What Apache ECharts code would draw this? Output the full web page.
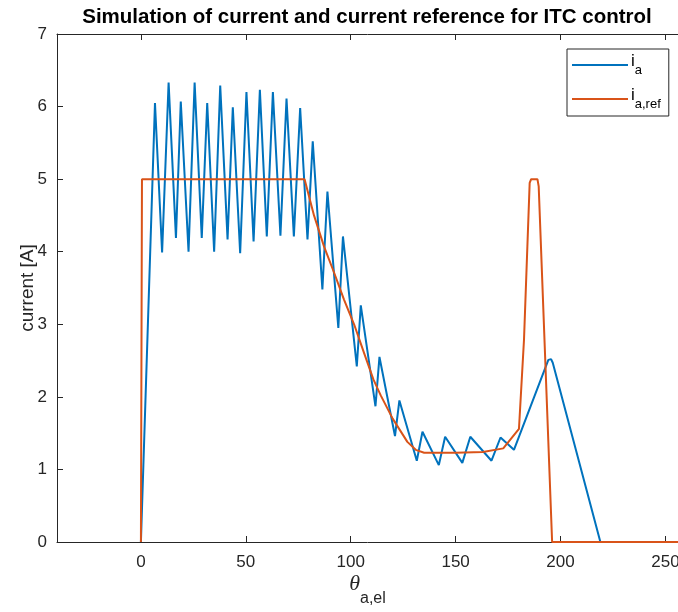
<!DOCTYPE html>
<html><head><meta charset="utf-8">
<script src="https://cdn.jsdelivr.net/npm/echarts@6/dist/echarts.min.js"></script>
<style>html,body{margin:0;padding:0;background:#fff}#c{width:678px;height:612px}</style>
</head><body><div id="c"></div>
<script>
// tick values
const xTicks = [0, 50, 100, 150, 200, 250];
const yTicks = [0, 1, 2, 3, 4, 5, 6, 7];

// measured current i_a
const iaX = [0, 6.7, 10.1, 13.2, 16.7, 19.0, 22.7, 25.6, 29.0, 31.6, 34.9, 37.8, 41.3, 43.8, 47.3, 50.3, 53.7, 56.7, 60.0, 62.9, 66.5, 69.4, 72.9, 75.9, 79.4, 81.9, 86.5, 88.9, 94.1, 96.3, 102.9, 104.8, 111.8, 113.7, 121.1, 123.2, 131.5, 134.2, 142.0, 145.0, 153.2, 157.0, 167.1, 171.4, 177.8, 194.2, 195.5, 196.3, 219.0, 256];
const iaY = [0, 6.05, 3.99, 6.33, 4.19, 6.07, 4.00, 6.33, 4.19, 6.05, 4.00, 6.29, 4.17, 5.99, 3.98, 6.20, 4.14, 6.23, 4.21, 6.20, 4.22, 6.11, 4.21, 5.98, 4.17, 5.52, 3.48, 4.83, 2.95, 4.21, 2.42, 3.26, 1.87, 2.55, 1.46, 1.95, 1.12, 1.52, 1.06, 1.45, 1.09, 1.45, 1.12, 1.44, 1.27, 2.51, 2.52, 2.47, 0, 0];

// reference current i_a,ref
const refX = [0, 0.5, 78.0, 82.5, 87.3, 92.1, 96.8, 101.6, 106.3, 110.8, 114.3, 120.0, 127.0, 131.0, 135.0, 150.0, 163.0, 172.7, 180.2, 182.6, 185.3, 186.0, 189.0, 189.6, 196.0, 256];
const refY = [0, 5, 5, 4.50, 4.07, 3.71, 3.34, 3.00, 2.61, 2.24, 2.02, 1.70, 1.38, 1.27, 1.23, 1.23, 1.24, 1.29, 1.56, 2.79, 4.95, 5, 5, 4.9, 0, 0];

const zip = (xs, ys) => xs.map((x, i) => [x, ys[i]]);
const AX = '#262626';
const FONT = '"Liberation Sans", Arial, sans-serif';

const chart = echarts.init(document.getElementById('c'), null, {renderer: 'canvas'});

const xCommon = {
  type: 'value', min: -40, max: 256,
  splitLine: {show: false},
  axisLine: {show: true, onZero: false, lineStyle: {color: AX, width: 1}},
  axisTick: {show: true, inside: true, length: 6, customValues: xTicks, lineStyle: {color: AX}},
};
const yCommon = {
  type: 'value', min: 0, max: 7, interval: 1,
  splitLine: {show: false},
  axisLine: {show: true, onZero: false, lineStyle: {color: AX, width: 1}},
  axisTick: {show: true, inside: true, length: 6, lineStyle: {color: AX}},
};

chart.setOption({
  animation: false,
  backgroundColor: '#fff',
  title: {
    text: 'Simulation of current and current reference for ITC control',
    left: 367, textAlign: 'center', top: 7, padding: 0,
    textStyle: {fontFamily: FONT, fontSize: 20.5, fontWeight: 'bold', color: '#000'}
  },
  grid: {left: 57, right: 0, top: 34, bottom: 70, containLabel: false, outerBoundsMode: 'none'},
  legend: {
    orient: 'vertical', left: 567, top: 49,
    backgroundColor: '#fff', borderColor: AX, borderWidth: 1,
    padding: [4, 8, 5, 5], itemGap: 10,
    itemWidth: 56, itemHeight: 2, icon: 'rect',
    data: ['ia', 'iaref'],
    formatter: n => n === 'ia' ? '{i|i}{s|a}' : '{i|i}{s|a,ref}',
    textStyle: {
      fontFamily: FONT, color: '#000', padding: [0, 0, 0, -2],
      rich: {
        i: {fontFamily: FONT, fontSize: 17, color: '#000', lineHeight: 24, verticalAlign: 'top'},
        s: {fontFamily: FONT, fontSize: 13, color: '#000', lineHeight: 24, verticalAlign: 'bottom'}
      }
    }
  },
  xAxis: [
    Object.assign({}, xCommon, {
      position: 'bottom',
      name: '{t|θ}{s|a,el}', nameLocation: 'middle', nameGap: 31, nameMoveOverlap: false,
      nameTextStyle: {
        rich: {
          t: {fontFamily: '"Liberation Serif", serif', fontStyle: 'italic', fontSize: 22, color: AX, lineHeight: 34, verticalAlign: 'top'},
          s: {fontFamily: FONT, fontSize: 16, color: AX, lineHeight: 34, verticalAlign: 'bottom'}
        }
      },
      axisLabel: {show: true, customValues: xTicks, margin: 12, color: AX, fontFamily: FONT, fontSize: 17}
    }),
    Object.assign({}, xCommon, {position: 'top', axisLabel: {show: false}})
  ],
  yAxis: [
    Object.assign({}, yCommon, {
      position: 'left',
      name: 'current [A]', nameLocation: 'middle', nameGap: 20, nameMoveOverlap: false,
      nameTextStyle: {fontFamily: FONT, fontSize: 19, color: AX},
      axisLabel: {show: true, margin: 10, color: AX, fontFamily: FONT, fontSize: 17}
    }),
    Object.assign({}, yCommon, {position: 'right', axisLine: {show: false}, axisTick: {show: false}, axisLabel: {show: false}})
  ],
  series: [
    {
      name: 'ia', type: 'line', data: zip(iaX, iaY), showSymbol: false, clip: false,
      color: '#0072BD', lineStyle: {color: '#0072BD', width: 2}, z: 3
    },
    {
      name: 'iaref', type: 'line', data: zip(refX, refY), showSymbol: false, clip: false,
      color: '#D95319', lineStyle: {color: '#D95319', width: 2}, z: 4
    }
  ]
});
</script>
</body></html>
